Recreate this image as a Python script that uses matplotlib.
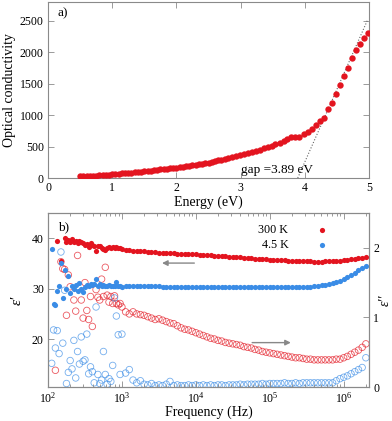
import numpy as np
import matplotlib
matplotlib.use('Agg')
import matplotlib.pyplot as plt

plt.rcParams['font.family'] = ['Liberation Serif', 'DejaVu Serif']
plt.rcParams['mathtext.fontset'] = 'stix'

# ---- panel a) optical conductivity vs energy
energy = [0.50, 0.55, 0.60, 0.65, 0.70, 0.75, 0.80, 0.85, 0.90, 0.95,
          1.00, 1.05, 1.10, 1.15, 1.20, 1.25, 1.30, 1.35, 1.40, 1.45,
          1.50, 1.55, 1.60, 1.65, 1.70, 1.75, 1.80, 1.85, 1.90, 1.95,
          2.00, 2.05, 2.10, 2.15, 2.20, 2.25, 2.30, 2.35, 2.40, 2.45,
          2.50, 2.55, 2.60, 2.65, 2.70, 2.75, 2.80, 2.86, 2.93, 2.99,
          3.05, 3.11, 3.18, 3.24, 3.30, 3.36, 3.42, 3.49, 3.54, 3.61,
          3.67, 3.73, 3.79, 3.85, 3.91, 3.98, 4.05, 4.11, 4.18, 4.24,
          4.30, 4.36, 4.42, 4.49, 4.55, 4.61, 4.67, 4.74, 4.80, 4.86,
          4.92, 4.99]
sigma = [32, 24, 27, 30, 33, 37, 41, 45, 49, 54,
         59, 63, 67, 72, 77, 82, 87, 92, 97, 102,
         108, 113, 119, 124, 130, 136, 142, 148, 154, 160,
         165, 172, 179, 186, 194, 202, 210, 218, 226, 233,
         240, 252, 264, 279, 294, 309, 322, 336, 352, 368,
         384, 400, 420, 436, 452, 474, 495, 516, 538, 564,
         586, 618, 650, 655, 654, 702, 734, 777, 840, 914,
         962, 1105, 1200, 1344, 1477, 1625, 1753, 1907, 2039, 2135,
         2230, 2305]
gap_line_x = [3.89, 4.98]
gap_line_y = [0, 2520]

# ---- panel b) dielectric function vs frequency
freq = [112.2, 118.9, 125.9, 133.4, 141.3, 149.6, 158.5, 167.9, 177.8, 188.4,
        199.5, 211.3, 223.9, 237.1, 251.2, 266.1, 281.8, 298.5, 316.2, 335.0,
        354.8, 375.8, 398.1, 421.7, 446.7, 473.2, 501.2, 530.9, 562.3, 595.7,
        631.0, 668.3, 707.9, 749.9, 794.3, 841.4, 891.3, 944.1, 1000.0,
        1122, 1259, 1413, 1585, 1778, 1995, 2239, 2512, 2818, 3162,
        3548, 3981, 4467, 5012, 5623, 6310, 7079, 7943, 8913, 1.0e4,
        1.122e4, 1.259e4, 1.413e4, 1.585e4, 1.778e4, 1.995e4, 2.239e4, 2.512e4, 2.818e4, 3.162e4,
        3.548e4, 3.981e4, 4.467e4, 5.012e4, 5.623e4, 6.310e4, 7.079e4, 7.943e4, 8.913e4, 1.0e5,
        1.122e5, 1.259e5, 1.413e5, 1.585e5, 1.778e5, 1.995e5, 2.239e5, 2.512e5, 2.818e5, 3.162e5,
        3.548e5, 3.981e5, 4.467e5, 5.012e5, 5.623e5, 6.310e5, 7.079e5, 7.943e5, 8.913e5, 1.0e6,
        1.122e6, 1.259e6, 1.413e6, 1.585e6, 1.778e6, 1.995e6]
nan = np.nan
eps1_300K = [nan, nan, nan, 39.4, nan, 35.4, nan, 40.0, 39.2, 39.7,
             39.3, 39.8, 39.2, 39.5, 39.0, 39.5, 39.2, 39.0, 38.7, 38.9,
             38.3, 39.0, 38.7, 38.4, 37.4, 38.5, 38.4, 38.1, 37.9, 37.7,
             38.0, 38.2, 38.1, 38.2, 38.1, 38.2, 38.0, 38.1, 37.9,
             37.7, 37.6, 37.4, 37.5, 37.4, 37.4, 37.3, 37.2, 37.2, 37.1,
             37.1, 37.0, 37.0, 37.0, 36.9, 36.9, 36.9, 36.8, 36.8, 36.8,
             36.7, 36.7, 36.6, 36.6, 36.5, 36.5, 36.4, 36.4, 36.3, 36.3,
             36.2, 36.2, 36.1, 36.0, 36.0, 35.9, 35.9, 35.8, 35.8, 35.7,
             35.7, 35.6, 35.6, 35.6, 35.5, 35.5, 35.5, 35.4, 35.4, 35.4,
             35.4, 35.3, 35.3, 35.3, 35.4, 35.4, 35.4, 35.5, 35.5, 35.6,
             35.7, 35.8, 35.9, 36.0, 36.1, 36.3]
eps1_4K = [37.8, 26.9, 26.8, 29.5, 30.5, 35.0, 28.2, 33.7, 29.9, 32.6,
           29.2, 30.5, 29.9, 30.8, 29.6, 31.2, 30.0, 29.4, 30.3, 30.8,
           30.5, 31.0, 30.7, 30.9, 31.9, 30.6, 30.9, 30.6, 30.8, 30.5,
           30.6, 30.7, 30.5, 30.6, 30.5, 31.3, 30.5, 30.5, 30.4,
           30.5, 30.5, 30.5, 30.5, 30.5, 30.5, 30.5, 30.5, 30.5, 30.5,
           30.4, 30.4, 30.4, 30.4, 30.4, 30.4, 30.4, 30.4, 30.4, 30.4,
           30.4, 30.4, 30.4, 30.4, 30.4, 30.4, 30.3, 30.3, 30.3, 30.3,
           30.3, 30.3, 30.3, 30.3, 30.3, 30.3, 30.3, 30.3, 30.3, 30.3,
           30.3, 30.3, 30.3, 30.3, 30.3, 30.3, 30.3, 30.3, 30.3, 30.35,
           30.4, 30.5, 30.6, 30.7, 30.8, 30.9, 31.1, 31.3, 31.6, 31.9,
           32.3, 32.7, 33.1, 33.6, 34.1, 34.4]
eps2_300K = [nan, nan, 0.24, nan, nan, 1.80, 1.70, 1.69, 1.03, 1.61,
             1.44, nan, 1.25, 1.09, 1.89, nan, 1.25, 0.99, 1.50, 1.10,
             0.97, 1.30, 0.87, nan, 1.40, 1.29, 1.25, 1.55, 1.30, 1.72,
             1.32, 1.22, 1.30, 1.20, 1.31, 1.20, 1.18, 1.20, 1.15,
             1.08, 1.05, 1.08, 1.05, 1.04, 1.03, 1.01, 0.99, 0.97, 0.98,
             0.96, 0.94, 0.92, 0.91, 0.88, 0.85, 0.83, 0.82, 0.80, 0.78,
             0.76, 0.74, 0.72, 0.70, 0.69, 0.67, 0.66, 0.64, 0.63, 0.62,
             0.61, 0.60, 0.58, 0.57, 0.56, 0.54, 0.53, 0.51, 0.50, 0.49,
             0.48, 0.47, 0.46, 0.45, 0.44, 0.43, 0.42, 0.42, 0.41, 0.40,
             0.40, 0.39, 0.39, 0.39, 0.39, 0.39, 0.39, 0.40, 0.40, 0.42,
             0.44, 0.47, 0.50, 0.53, 0.57, 0.62]
eps2_4K = [0.34, 0.82, 0.56, 0.81, 0.48, 1.94, 0.63, 1.39, 0.05, 0.21,
           0.38, 0.26, 0.67, 0.13, 0.51, 0.33, 0.72, 0.37, 0.39, 0.76,
           0.19, 0.29, 0.22, 0.06, 1.15, 0.18, 0.05, 0.10, 0.51, 0.18,
           0.04, 0.12, 0.08, 0.31, 1.28, 1.02, 0.75, 0.18, 0.76,
           0.20, 0.25, 0.10, 0.06, 0.09, 0.04, 0.03, 0.05, 0.02, 0.03,
           0.02, 0.04, 0.08, 0.02, 0.03, 0.02, 0.02, 0.03, 0.02, 0.03,
           0.02, 0.03, 0.02, 0.03, 0.02, 0.03, 0.03, 0.02, 0.03, 0.03,
           0.03, 0.04, 0.03, 0.04, 0.04, 0.04, 0.04, 0.05, 0.04, 0.05,
           0.05, 0.05, 0.05, 0.06, 0.05, 0.05, 0.06, 0.05, 0.06, 0.06,
           0.06, 0.06, 0.06, 0.06, 0.06, 0.06, 0.06, 0.09, 0.12, 0.14,
           0.16, 0.19, 0.22, 0.25, 0.28, 0.42]

red = '#e3141f'
blue = '#3a8ce6'
frame = '#8a8a8a'

fig = plt.figure(figsize=(3.92, 4.21), dpi=100)
ax1 = fig.add_axes([48/392, 1-178/421, 321/392, 176/421])
ax2 = fig.add_axes([48/392, 1-387/421, 321/392, 174/421])


def style(ax):
    for s in ax.spines.values():
        s.set_color(frame)
        s.set_linewidth(0.8)
    ax.tick_params(which='both', direction='in', color=frame, labelsize=8.5,
                   width=0.6, pad=3)
    ax.tick_params(which='major', length=4)
    ax.tick_params(which='minor', length=2)


# panel a
ax1.scatter(energy, sigma, s=21, color=red, zorder=3, linewidths=0)
ax1.plot(gap_line_x, gap_line_y, ':', color='#666666', lw=0.8)
ax1.text(3.0, 25, 'gap =3.89 eV', fontsize=9.5, va='bottom')
ax1.text(0.03, 0.97, 'a)', transform=ax1.transAxes, fontsize=9.5, va='top')
ax1.set_xlim(0, 5)
ax1.set_ylim(0, 2800)
ax1.set_xticks([0, 1, 2, 3, 4, 5])
ax1.set_yticks([0, 500, 1000, 1500, 2000, 2500])
ax1.set_xlabel('Energy (eV)', fontsize=10, labelpad=1)
ax1.set_ylabel('Optical conductivity', fontsize=10, labelpad=3)
style(ax1)
ax1.tick_params(top=True, right=True)

# panel b
ax3 = ax2.twinx()
ax3.scatter(freq, eps2_300K, s=22, facecolors='none', edgecolors=red, linewidths=0.6, alpha=0.7)
ax3.scatter(freq, eps2_4K, s=22, facecolors='none', edgecolors=blue, linewidths=0.6, alpha=0.7)
ax3.set_ylim(0, 2.5)
ax3.set_yticks([0, 1, 2])
ax3.set_ylabel('ε′′', fontsize=10, style='italic', labelpad=0)

ax2.set_zorder(ax3.get_zorder() + 1)
ax2.patch.set_visible(False)
ax2.scatter(freq, eps1_300K, s=14, color=red, linewidths=0, label='300 K')
ax2.scatter(freq, eps1_4K, s=14, color=blue, linewidths=0, label='4.5 K')
ax2.annotate('', xy=(3.2e3, 35.07), xytext=(1.04e4, 35.07),
             arrowprops=dict(arrowstyle='-|>', color='#888888', lw=1, mutation_scale=8))
ax2.annotate('', xy=(2.1e5, 19.3), xytext=(5.3e4, 19.3),
             arrowprops=dict(arrowstyle='-|>', color='#888888', lw=1, mutation_scale=8))
ax2.set_xscale('log')
ax2.set_xlim(100, 2.2e6)
ax2.set_ylim(10.5, 45)
ax2.set_yticks([20, 30, 40])
ax2.set_xlabel('Frequency (Hz)', fontsize=10, labelpad=0)
ax2.set_ylabel('ε′', fontsize=11, style='italic', labelpad=6)
ax2.text(0.03, 0.95, 'b)', transform=ax2.transAxes, fontsize=9.5, va='top')
ax2.legend(loc='upper right', bbox_to_anchor=(0.907, 1.0), frameon=False,
           markerfirst=False, handlelength=1.0, handletextpad=2.3,
           labelspacing=0.3, fontsize=8.7, borderpad=0.4)
style(ax2)
style(ax3)
ax2.tick_params(top=True, which='both')
ax3.tick_params(which='both', left=False)

fig.savefig('out.png', dpi=100)
